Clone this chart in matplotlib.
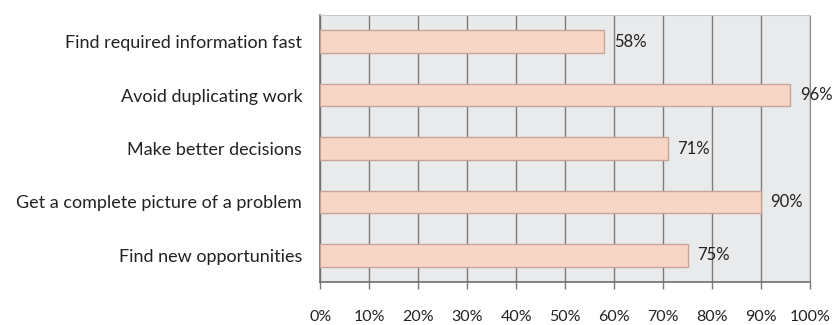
import matplotlib.pyplot as plt

# Datos
categorias = [
    "Find required information fast",
    "Avoid duplicating work",
    "Make better decisions",
    "Get a complete picture of a problem",
    "Find new opportunities",
]
valores = [58, 96, 71, 90, 75]
ticks_x = list(range(0, 101, 10))
etiquetas_x = [f"{t}%" for t in ticks_x]

plt.rcParams['font.family'] = ['Lato', 'DejaVu Sans']

fig = plt.figure(figsize=(8.36, 3.25), dpi=100)
ax = fig.add_axes([0.383, 0.132, 0.586, 0.822])
ax.set_facecolor('#e9eaec')

pos = list(range(len(categorias)))
ax.barh(pos, valores, height=0.42, color='#f8d6c6', edgecolor='#c9a396',
        linewidth=1.0, zorder=3)

for y, v in zip(pos, valores):
    ax.text(v + 1.9, y, f"{v}%", va='center', ha='left', fontsize=12,
            color='#222222', zorder=4)

ax.set_xlim(0, 100)
ax.set_ylim(len(categorias) - 0.5, -0.5)
ax.set_xticks(ticks_x)
ax.set_xticklabels(etiquetas_x, fontsize=11.5, color='#222222')
ax.set_yticks(pos)
ax.set_yticklabels(categorias, fontsize=13, color='#222222')

ax.grid(axis='x', color='#7a7a7a', linewidth=1.0, zorder=1)
ax.tick_params(axis='x', length=5, width=1, color='#7a7a7a', pad=15)
ax.tick_params(axis='y', length=0, pad=13)

for lado in ['left', 'bottom']:
    ax.spines[lado].set_color('#6e6e6e')
    ax.spines[lado].set_linewidth(1.2)
ax.spines['right'].set_color('#8a8a8a')
ax.spines['top'].set_color('#c8c8c8')

fig.savefig('out.png', dpi=100)
